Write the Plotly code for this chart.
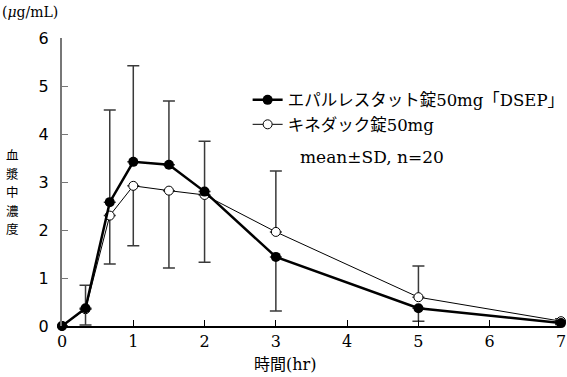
import plotly.graph_objects as go

time_hr = [0, 0.33, 0.67, 1, 1.5, 2, 3, 5, 7]
dsep_mean = [0, 0.37, 2.58, 3.42, 3.36, 2.80, 1.44, 0.37, 0.06]
dsep_sd_up = [None, 0.48, 1.92, 2.00, 1.33, 1.05, None, None, None]
dsep_sd_down = [None, None, None, None, None, None, 1.13, 0.27, 0.03]
kine_mean = [0, 0.35, 2.30, 2.92, 2.82, 2.73, 1.96, 0.60, 0.10]
kine_sd_up = [None, None, None, None, None, None, 1.27, 0.65, 0.05]
kine_sd_down = [None, 0.33, 1.01, 1.25, 1.61, 1.40, None, None, None]

name_dsep = "エパルレスタット錠50mg「DSEP」"
name_kine = "キネダック錠50mg"
note = "mean±SD, n=20"
y_label = "血漿中濃度"
x_ticks = [0, 1, 2, 3, 4, 5, 6, 7]
y_ticks = [0, 1, 2, 3, 4, 5, 6]

JP = "DejaVu Serif, Noto Sans CJK JP"
ERR = "#3a3a3a"

fig = go.Figure()

def err(up, down):
    return dict(type="data", symmetric=False,
                array=[u if u is not None else 0 for u in up],
                arrayminus=[d if d is not None else 0 for d in down],
                visible=True, color=ERR, thickness=1.5, width=6)

fig.add_trace(go.Scatter(
    x=time_hr, y=kine_mean, name=name_kine, mode="lines+markers",
    line=dict(color="black", width=1),
    marker=dict(symbol="circle", size=9, color="white", line=dict(color="black", width=1)),
    error_y=err(kine_sd_up, kine_sd_down), legendrank=2, cliponaxis=False))

fig.add_trace(go.Scatter(
    x=time_hr, y=dsep_mean, name=name_dsep, mode="lines+markers",
    line=dict(color="black", width=2.5),
    marker=dict(symbol="circle", size=10, color="black"),
    error_y=err(dsep_sd_up, dsep_sd_down), legendrank=1, cliponaxis=False))

fig.update_layout(
    width=567, height=377,
    margin=dict(l=62, r=6, t=38, b=51, autoexpand=False),
    paper_bgcolor="white", plot_bgcolor="white",
    showlegend=True,
    legend=dict(x=0.372, y=0.845, xanchor="left", yanchor="top",
                font=dict(family=JP, size=16.5, color="black"),
                bgcolor="rgba(0,0,0,0)", tracegroupgap=0, itemwidth=30),
    font=dict(family=JP, color="black"),
)

fig.update_xaxes(range=[0, 7], tickvals=x_ticks, ticks="inside", ticklen=6,
                 tickcolor="black", showline=True, linecolor="black", linewidth=1.5,
                 showgrid=False, zeroline=False, automargin=False,
                 ticklabeloverflow="allow",
                 tickfont=dict(family="DejaVu Serif", size=16, color="black"))
fig.update_yaxes(range=[0, 6], tickvals=y_ticks, ticks="inside", ticklen=6,
                 tickcolor="#777", showline=True, linecolor="#777", linewidth=2,
                 showgrid=False, zeroline=False, ticklabelstandoff=8, automargin=False,
                 ticklabeloverflow="allow",
                 tickfont=dict(family="DejaVu Sans", size=16, color="black"))

fig.add_annotation(text=note, xref="paper", yref="paper", x=(298-62)/499, y=(326-157)/288,
                   xanchor="left", yanchor="middle", showarrow=False,
                   font=dict(family="DejaVu Serif", size=17, color="black"))
fig.add_annotation(text="(<i>μ</i>g/mL)", xref="paper", yref="paper", x=-62/499, y=(326-12)/288,
                   xanchor="left", yanchor="middle", showarrow=False,
                   font=dict(family="DejaVu Serif", size=14, color="black"))
for i, ch in enumerate(y_label):
    fig.add_annotation(text=ch, xref="paper", yref="paper", borderpad=0,
                       x=-50/499, y=(326-(154.5+18.5*i))/288, xanchor="center", yanchor="middle",
                       showarrow=False, font=dict(family="Noto Sans CJK JP", size=12.5, color="black"))
fig.add_annotation(text="時間(hr)", xref="paper", yref="paper", x=(285-62)/499, y=-(364-326)/288,
                   xanchor="center", yanchor="middle", showarrow=False,
                   font=dict(family=JP, size=16, color="black"))

fig.write_html("out.html", config={"displayModeBar": False},
               post_script="document.body.style.margin='0';document.body.style.padding='0';")
